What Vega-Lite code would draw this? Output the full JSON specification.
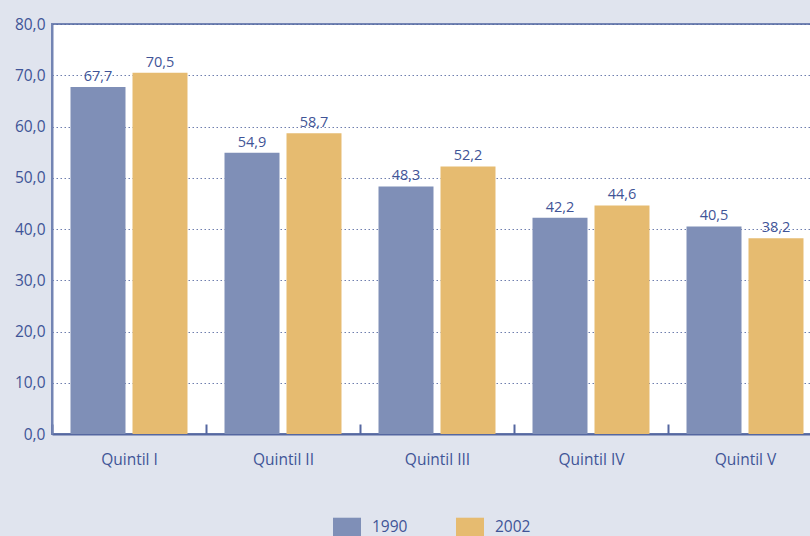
{
  "$schema": "https://vega.github.io/schema/vega-lite/v6.json",
  "autosize": "none",
  "width": 770,
  "height": 410,
  "padding": {"left": 52, "top": 24, "right": 0, "bottom": 102},
  "background": "#e0e4ee",
  "config": {
    "locale": {"number": {"decimal": ",", "thousands": ".", "grouping": [3], "currency": ["", ""]}},
    "font": "Open Sans",
    "view": {"fill": "white", "stroke": "#7384b3", "strokeWidth": 2}
  },
  "data": {
    "values": [
      {"quintil": "Quintil I", "ano": "1990", "valor": 67.7},
      {"quintil": "Quintil I", "ano": "2002", "valor": 70.5},
      {"quintil": "Quintil II", "ano": "1990", "valor": 54.9},
      {"quintil": "Quintil II", "ano": "2002", "valor": 58.7},
      {"quintil": "Quintil III", "ano": "1990", "valor": 48.3},
      {"quintil": "Quintil III", "ano": "2002", "valor": 52.2},
      {"quintil": "Quintil IV", "ano": "1990", "valor": 42.2},
      {"quintil": "Quintil IV", "ano": "2002", "valor": 44.6},
      {"quintil": "Quintil V", "ano": "1990", "valor": 40.5},
      {"quintil": "Quintil V", "ano": "2002", "valor": 38.2}
    ]
  },
  "encoding": {
    "x": {
      "field": "quintil", "type": "nominal", "sort": null,
      "scale": {"paddingInner": 0, "paddingOuter": 0},
      "axis": {
        "title": null, "labelAngle": 0, "labelFontSize": 15.5, "labelColor": "#3f5497",
        "domainColor": "#5567a0", "domainWidth": 2,
        "tickBand": "extent", "tickSize": -10, "tickWidth": 2, "tickColor": "#5567a0",
        "labelPadding": 28
      }
    },
    "xOffset": {
      "field": "ano", "type": "nominal",
      "scale": {"paddingInner": 0.113, "paddingOuter": 0.2985}
    },
    "y": {
      "field": "valor", "type": "quantitative",
      "scale": {"domain": [0, 80]},
      "axis": {
        "title": null, "values": [0, 10, 20, 30, 40, 50, 60, 70, 80], "format": ".1f",
        "labelFontSize": 15.5, "labelColor": "#3f5497", "labelPadding": 7,
        "ticks": false, "domainColor": "#7384b3", "domainWidth": 2,
        "grid": true, "gridColor": "#5567a0", "gridDash": [1.5, 2.5], "gridWidth": 1, "gridOpacity": 0.85
      }
    }
  },
  "layer": [
    {
      "mark": {"type": "bar"},
      "encoding": {
        "color": {
          "field": "ano", "type": "nominal",
          "scale": {"domain": ["1990", "2002"], "range": ["#7f8fb7", "#e6bb70"]},
          "legend": {
            "title": null, "orient": "none", "direction": "horizontal",
            "legendX": 281, "legendY": 489, "padding": 0,
            "symbolType": "M-1,-0.68H1V0.68H-1Z", "symbolSize": 784,
            "symbolStrokeWidth": 0, "symbolOpacity": 1,
            "labelFontSize": 15.5, "labelColor": "#3f5497", "labelOffset": 11,
            "columnPadding": 48
          }
        }
      }
    },
    {
      "mark": {"type": "text", "baseline": "bottom", "dy": -3, "fontSize": 14.5, "color": "#3f5497"},
      "encoding": {
        "text": {"field": "valor", "type": "quantitative", "format": ".1f"}
      }
    }
  ]
}
